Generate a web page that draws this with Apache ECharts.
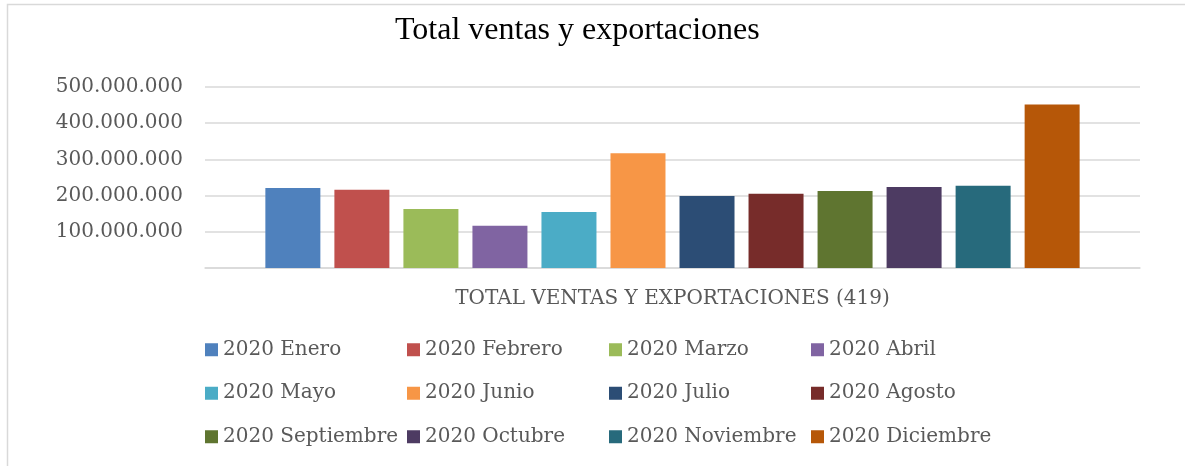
<!DOCTYPE html>
<html>
<head>
<meta charset="utf-8">
<title>Total ventas y exportaciones</title>
<script src="https://cdn.jsdelivr.net/npm/echarts@6/dist/echarts.min.js"></script>
<style>
  html, body { margin: 0; padding: 0; background: #fff; }
  #chart { width: 1185px; height: 466px; }
</style>
</head>
<body>
<div id="chart"></div>
<script>
// datos
const categorias = ['TOTAL VENTAS Y EXPORTACIONES (419)'];
const meses = [
  '2020 Enero', '2020 Febrero', '2020 Marzo', '2020 Abril',
  '2020 Mayo', '2020 Junio', '2020 Julio', '2020 Agosto',
  '2020 Septiembre', '2020 Octubre', '2020 Noviembre', '2020 Diciembre'
];
const valores = [
  221000000, 216000000, 163000000, 117000000,
  155000000, 317000000, 199000000, 205000000,
  213000000, 224000000, 227000000, 452000000
];
const yTicks = [0, 100000000, 200000000, 300000000, 400000000, 500000000];

// paleta de office
const colores = [
  '#4f81bd', '#c0504d', '#9bbb59', '#8064a2', '#4bacc6', '#f79646',
  '#2c4d75', '#772c2a', '#5f7530', '#4d3b62', '#276a7c', '#b65708'
];

const fmt = function (v) {
  if (v === 0) return '';
  return String(v).replace(/\B(?=(\d{3})+(?!\d))/g, '.');
};

const chart = echarts.init(document.getElementById('chart'));
const option = {
  backgroundColor: '#fff',
  color: colores,
  animation: false,
  title: {
    text: 'Total ventas y exportaciones',
    left: 395,
    top: 15,
    padding: 0,
    textStyle: {
      fontFamily: 'Liberation Serif',
      fontWeight: 'normal',
      fontSize: 32,
      color: '#000'
    }
  },
  graphic: [
    {
      type: 'rect',
      shape: { x: 7.5, y: 4.5, width: 1200, height: 480 },
      style: { fill: 'none', stroke: '#d9d9d9', lineWidth: 1.5 },
      silent: true
    }
  ],
  grid: {
    left: 205,
    right: 45,
    top: 87,
    bottom: 198
  },
  legend: {
    left: 205,
    top: 328,
    width: 820,
    padding: 0,
    itemGap: 0,
    itemWidth: 13,
    itemHeight: 13,
    icon: 'rect',
    data: meses,
    textStyle: {
      fontFamily: 'DejaVu Serif',
      fontSize: 20,
      color: '#595959',
      width: 184,
      lineHeight: 43.5
    }
  },
  xAxis: {
    type: 'category',
    data: categorias,
    axisLine: { lineStyle: { color: '#d9d9d9', width: 1.5 } },
    axisTick: { show: false },
    axisLabel: {
      fontFamily: 'DejaVu Serif',
      fontSize: 20,
      color: '#595959',
      margin: 21
    }
  },
  yAxis: {
    type: 'value',
    min: yTicks[0],
    max: yTicks[yTicks.length - 1],
    interval: yTicks[1] - yTicks[0],
    axisLine: { show: false },
    axisTick: { show: false },
    splitLine: { lineStyle: { color: '#d9d9d9', width: 1.5 } },
    axisLabel: {
      fontFamily: 'DejaVu Serif',
      fontSize: 20,
      color: '#595959',
      margin: 22,
      formatter: fmt
    }
  },
  series: meses.map(function (m, i) {
    return {
      name: m,
      type: 'bar',
      barWidth: 55,
      barGap: '25.5%',
      data: [valores[i]]
    };
  })
};
chart.setOption(option);
</script>
</body>
</html>
